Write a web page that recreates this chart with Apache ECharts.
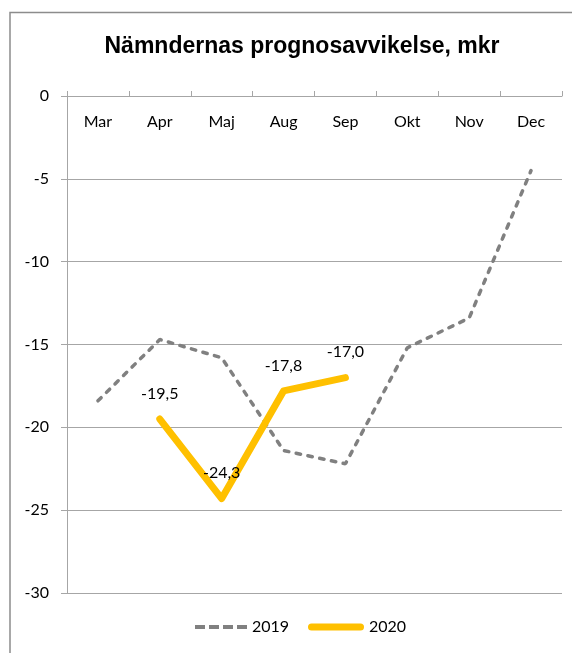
<!DOCTYPE html>
<html>
<head>
<meta charset="utf-8">
<script src="https://cdn.jsdelivr.net/npm/echarts@6/dist/echarts.min.js"></script>
<style>html,body{margin:0;padding:0;background:#fff}#c{width:572px;height:653px}</style>
</head>
<body>
<div id="c"></div>
<script>
var categories = ['Mar','Apr','Maj','Aug','Sep','Okt','Nov','Dec'];
var values2019 = [-18.4, -14.7, -15.8, -21.4, -22.2, -15.2, -13.4, -4.5];
var values2020 = [null, -19.5, -24.3, -17.8, -17.0, null, null, null];
var yTicks = {min: -30, max: 0, interval: 5};

var chart = echarts.init(document.getElementById('c'));
var font = 'Lato, "Open Sans", sans-serif';
var legendText = {fontFamily: font, fontSize: 16, color: '#000'};
chart.setOption({
  animation: false,
  backgroundColor: '#fff',
  title: {
    text: 'Nämndernas prognosavvikelse, mkr',
    left: 297, top: 30, textAlign: 'center',
    textStyle: {fontFamily: '"Liberation Sans", Arial, sans-serif', fontWeight: 'bold', fontSize: 23, color: '#000'}
  },
  graphic: [{
    type: 'rect', shape: {x: 10, y: 12.5, width: 700, height: 800},
    style: {fill: 'none', stroke: '#8c8c8c', lineWidth: 1.5}, silent: true
  }],
  legend: [{
    left: 195, top: 619, padding: 0,
    itemWidth: 52, itemHeight: 4,
    textStyle: legendText,
    data: [{name: '2019', icon: 'path://M0,0h10v4h-10zM14,0h10v4h-10zM28,0h10v4h-10zM42,0h10v4h-10z'}]
  }, {
    left: 308, top: 619, padding: 0,
    itemWidth: 56, itemHeight: 7,
    textStyle: legendText,
    data: [{name: '2020', icon: 'path://M3.5,0H52.5A3.5,3.5,0,0,1,52.5,7H3.5A3.5,3.5,0,0,1,3.5,0Z'}]
  }],
  grid: {left: 67, top: 96, right: 10, bottom: 60},
  xAxis: {
    type: 'category', data: categories, position: 'top',
    axisLine: {lineStyle: {color: '#a6a6a6', width: 1}},
    axisTick: {show: true, length: 5, lineStyle: {color: '#a6a6a6'}},
    axisLabel: {inside: true, margin: 18, fontFamily: font, fontSize: 16, color: '#000'},
    splitLine: {show: false}
  },
  yAxis: {
    type: 'value', min: yTicks.min, max: yTicks.max, interval: yTicks.interval,
    axisLine: {show: true, lineStyle: {color: '#a6a6a6', width: 1}},
    axisTick: {show: true, length: 6, lineStyle: {color: '#a6a6a6'}},
    axisLabel: {margin: 18, fontFamily: font, fontSize: 16, color: '#000'},
    splitLine: {lineStyle: {color: '#a6a6a6', width: 1}}
  },
  series: [
    {
      name: '2019', type: 'line', data: values2019, symbol: 'none',
      lineStyle: {color: '#808080', width: 3.5, type: [4.5, 7.5], cap: 'round'},
      itemStyle: {color: '#808080'}
    },
    {
      name: '2020', type: 'line', data: values2020,
      symbol: 'circle', symbolSize: 1, showSymbol: true,
      lineStyle: {color: '#FFC000', width: 7, cap: 'round', join: 'round'},
      itemStyle: {color: '#FFC000'},
      label: {
        show: true, position: 'top', distance: 17,
        fontFamily: font, fontSize: 16, color: '#000',
        formatter: function (p) {
          var v = Array.isArray(p.value) ? p.value[1] : p.value;
          if (v == null || isNaN(v)) return '';
          return Number(v).toFixed(1).replace('.', ',');
        }
      }
    }
  ]
});
</script>
</body>
</html>
